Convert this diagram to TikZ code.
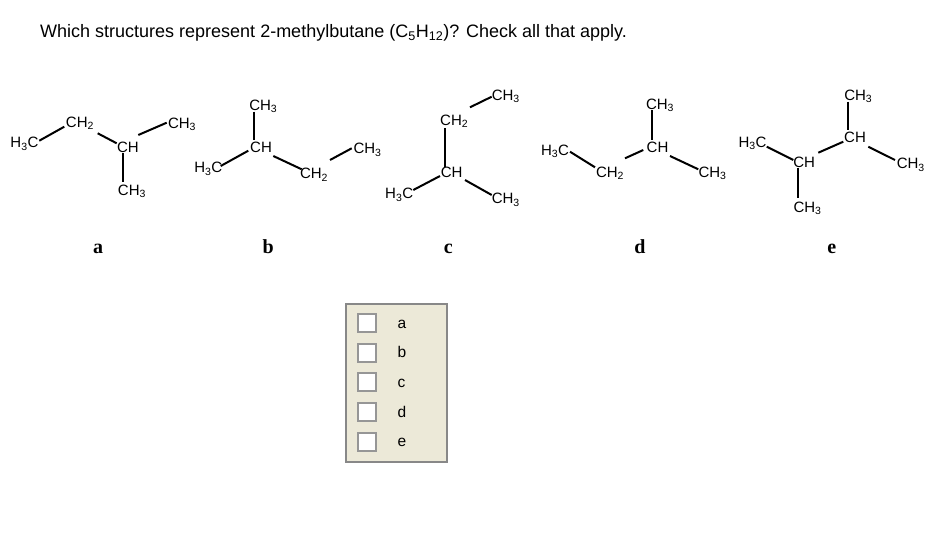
\documentclass[tikz,border=0pt]{standalone}
\usepackage{fontspec}
\setmainfont{Liberation Sans}
\newfontfamily\serif{Liberation Serif}
\usetikzlibrary{calc}
\definecolor{panel}{RGB}{236,233,216}
\definecolor{panelgray}{RGB}{136,136,136}
\definecolor{boxgray}{RGB}{150,150,150}
\newcommand{\lowr}[1]{\textsubscript{#1}}

\begin{document}
\begin{tikzpicture}[x=1pt,y=-1pt,
		grp/.style={font=\fontsize{15}{18}\selectfont, inner sep=0pt, text height=10.7pt, text depth=0pt},
		bond/.style={line width=2pt},
		tag/.style={font=\serif\bfseries\fontsize{20}{24}\selectfont, anchor=base},
		box/.style={draw=boxgray, fill=white, line width=2pt, minimum size=18pt, inner sep=0pt},
		choice/.style={font=\fontsize{15.5}{18}\selectfont, anchor=base west, inner sep=0pt}]
		\useasboundingbox (0,0) rectangle (941,551);
		\node[anchor=base west, inner sep=0pt, font=\fontsize{18}{21}\selectfont] (q) at (40,37.3) {Which structures represent 2-methylbutane (C\lowr{5}H\lowr{12})? Check all that apply.};
		% a
		\node[grp] (a1) at (24.5,142.3) {H\lowr{3}C};
		\node[grp] (a2) at (80,121.7) {CH\lowr{2}};
		\node[grp] (a3) at (128,146.7) {CH};
		\node[grp] (a4) at (182,122.7) {CH\lowr{3}};
		\node[grp] (a5) at (132,190) {CH\lowr{3}};
		\draw[bond] ($(a1)+(14.8,-1.6)$) -- ($(a2)+(-15.7,5)$);
		\draw[bond] ($(a2)+(17.7,11.6)$) -- ($(a3)+(-11.3,-3.4)$);
		\draw[bond] ($(a3)+(10.3,-11.7)$) -- ($(a4)+(-15.3,0)$);
		\draw[bond] ($(a3)+(-4.7,6.6)$) -- ($(a5)+(-8.7,-8.3)$);
		\node[tag] (la) at (98,253.3) {a};
		% b
		\node[grp] (b1) at (263.3,105) {CH\lowr{3}};
		\node[grp] (b2) at (261,146.7) {CH};
		\node[grp] (b3) at (208.3,167.3) {H\lowr{3}C};
		\node[grp] (b4) at (314,173.3) {CH\lowr{2}};
		\node[grp] (b5) at (367.5,148.3) {CH\lowr{3}};
		\draw[bond] ($(b1)+(-9,6.7)$) -- ($(b2)+(-6.7,-6.7)$);
		\draw[bond] ($(b3)+(12.4,-1.3)$) -- ($(b2)+(-12.7,4)$);
		\draw[bond] ($(b2)+(12.3,9.3)$) -- ($(b4)+(-12.3,-4)$);
		\draw[bond] ($(b4)+(16,-13.3)$) -- ($(b5)+(-15.8,0)$);
		\node[tag] (lb) at (268.3,253.3) {b};
		% c
		\node[grp] (c1) at (505.8,95) {CH\lowr{3}};
		\node[grp] (c2) at (454.2,120) {CH\lowr{2}};
		\node[grp] (c3) at (451.7,171.7) {CH};
		\node[grp] (c4) at (399.2,193.3) {H\lowr{3}C};
		\node[grp] (c5) at (505.8,198.3) {CH\lowr{3}};
		\draw[bond] ($(c2)+(15.8,-12.7)$) -- ($(c1)+(-14.1,1.7)$);
		\draw[bond] ($(c2)+(-9.2,8.3)$) -- ($(c3)+(-6.7,-5)$);
		\draw[bond] ($(c4)+(14.1,-3.3)$) -- ($(c3)+(-11.7,4.3)$);
		\draw[bond] ($(c3)+(13.3,8.3)$) -- ($(c5)+(-14.1,-3.3)$);
		\node[tag] (lc) at (448.3,253.3) {c};
		% d
		\node[grp] (d1) at (555,150) {H\lowr{3}C};
		\node[grp] (d2) at (610,171.7) {CH\lowr{2}};
		\node[grp] (d3) at (657.5,146.7) {CH};
		\node[grp] (d4) at (660,104) {CH\lowr{3}};
		\node[grp] (d5) at (712.5,171.7) {CH\lowr{3}};
		\draw[bond] ($(d1)+(15,1.7)$) -- ($(d2)+(-15,-4.4)$);
		\draw[bond] ($(d2)+(15,-13.4)$) -- ($(d3)+(-14.2,3.3)$);
		\draw[bond] ($(d4)+(-8.3,6)$) -- ($(d3)+(-5.8,-6.7)$);
		\draw[bond] ($(d3)+(12.5,9.3)$) -- ($(d5)+(-14.2,-2.4)$);
		\node[tag] (ld) at (640,253.3) {d};
		% e
		\node[grp] (e1) at (752.5,141.7) {H\lowr{3}C};
		\node[grp] (e2) at (804.2,161.7) {CH};
		\node[grp] (e3) at (807.5,206.7) {CH\lowr{3}};
		\node[grp] (e4) at (855,136.7) {CH};
		\node[grp] (e5) at (858.3,95) {CH\lowr{3}};
		\node[grp] (e6) at (910.8,163.3) {CH\lowr{3}};
		\draw[bond] ($(e1)+(14.2,5)$) -- ($(e2)+(-10.9,-1.7)$);
		\draw[bond] ($(e2)+(-5.9,6.6)$) -- ($(e3)+(-9.2,-8.4)$);
		\draw[bond] ($(e2)+(14.1,-9)$) -- ($(e4)+(-11.7,5)$);
		\draw[bond] ($(e5)+(-10,6.7)$) -- ($(e4)+(-6.7,-6.7)$);
		\draw[bond] ($(e4)+(13.3,10)$) -- ($(e6)+(-15.8,-3.3)$);
		\node[tag] (le) at (831.7,253.3) {e};
		% answer panel
		\draw[panelgray, fill=panel, line width=2pt] (346,304) rectangle (447,462);
		\foreach \t [count=\i from 0] in {a,b,c,d,e}{
			\node[box] (box\t) at (366.7,323+29.7*\i) {};
			\node[choice] (opt\t) at (397.5,328+29.7*\i) {\t};
		}
\end{tikzpicture}
\end{document}
